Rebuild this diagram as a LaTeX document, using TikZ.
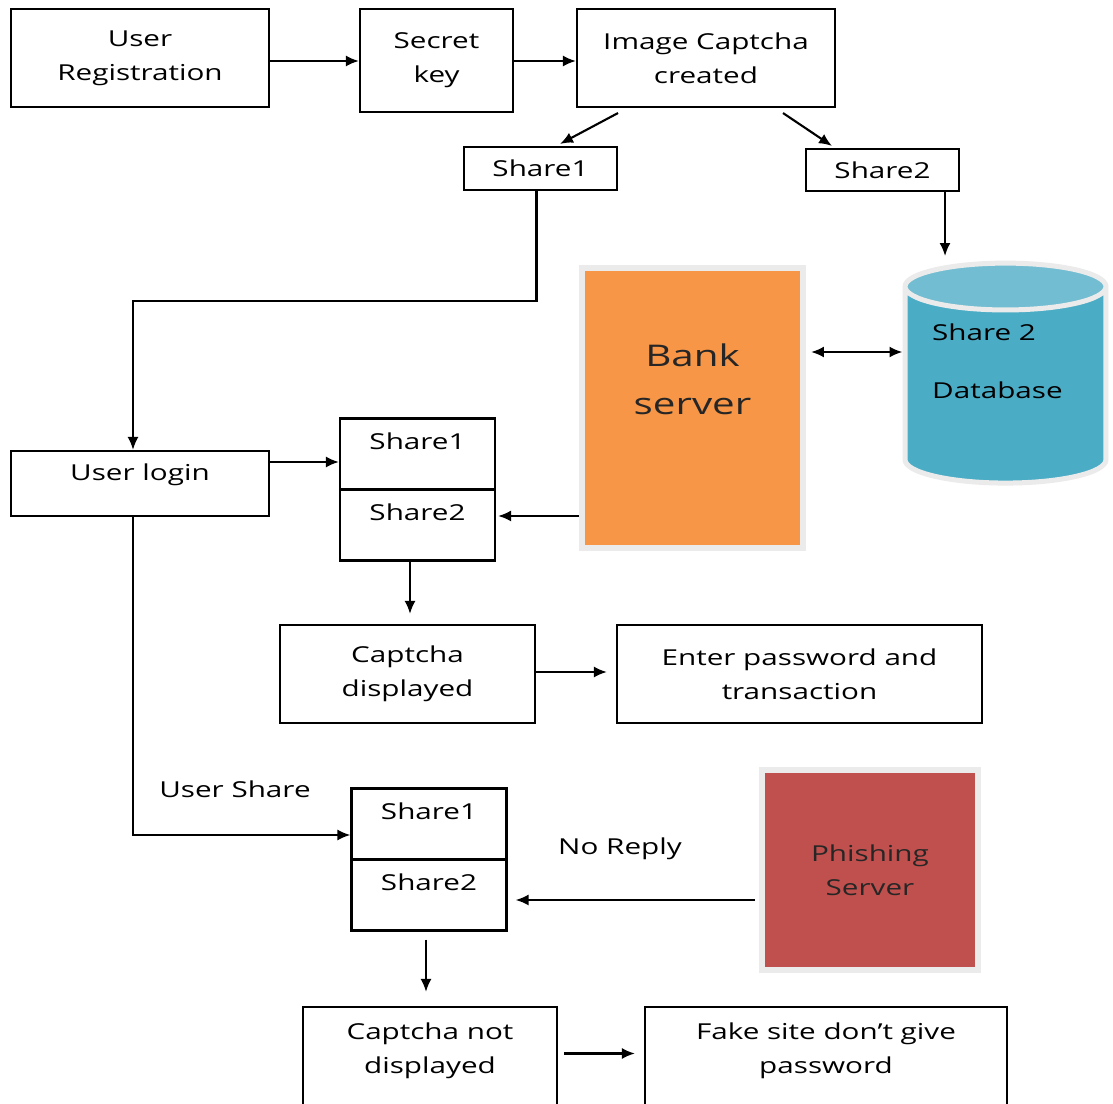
\documentclass[tikz,border=0pt]{standalone}
\usepackage{fontspec}
\setmainfont{Open Sans}[FakeStretch=1.35]
\usepackage{tikz}
\usetikzlibrary{positioning, calc, shapes.geometric, arrows.meta}
\definecolor{bankorange}{HTML}{F79646}
\definecolor{phishred}{HTML}{C0504D}
\definecolor{dbblue}{HTML}{4BACC6}
\definecolor{dbtop}{HTML}{72BDD1}
\tikzstyle{every node}=[font=\fontsize{12.5}{19.4}\selectfont]
\tikzstyle{block}=[draw, line width=1.2pt, align=center, inner sep=0pt]
\tikzstyle{half}=[draw, line width=1.2pt, inner sep=0pt, minimum width=3.1cm, text height=0.62cm, text depth=0.8cm]
\tikzstyle{server}=[draw=black!8, line width=0.12cm, align=center, inner sep=0pt]
\tikzstyle{arrow}=[-{Latex[length=0.26cm, width=0.22cm]}, line width=1.2pt]
\tikzstyle{arrowBoth}=[{Latex[length=0.26cm, width=0.22cm]}-{Latex[length=0.26cm, width=0.22cm]}, line width=1.2pt]

\begin{document}
\begin{tikzpicture}[x=0.02cm, y=-0.02cm]
    \clip (0,0) rectangle (1113,1104);
    \fill[white] (0,0) rectangle (1113,1104);

    % registration part
    \node [block, minimum width=5.16cm, minimum height=1.96cm] (reg) at (140,58) {User\\Registration};
    \node [block, minimum width=3.06cm, minimum height=2.06cm] (key) at (436.5,60.5) {Secret\\key};
    \node [block, minimum width=5.16cm, minimum height=1.96cm] (capt) at (706,58) {Image Captcha\\created};
    \node [block, minimum width=3.06cm, minimum height=0.86cm] (s1) at (540.5,168.5) {Share1};
    \node [block, minimum width=3.06cm, minimum height=0.84cm] (s2) at (882.5,170) {Share2};

    % servers and database
    \node [cylinder, shape border rotate=90, aspect=4, minimum width=4.02cm, minimum height=4.4cm,
           draw=black!8, line width=0.1cm, cylinder uses custom fill,
           cylinder body fill=dbblue, cylinder end fill=dbtop] (db) at (1005.5,390) {};
    \node [align=left, anchor=west, font=\fontsize{12.5}{33}\selectfont] (dbtext) at (926,361) {Share 2\\Database};
    \node [server, fill=bankorange, minimum width=4.42cm, minimum height=5.6cm, text=black!85,
           font=\fontsize{17}{27}\selectfont] (bank) at (692.5,408) {Bank\\server\\[0.2cm]};
    \node [server, fill=phishred, minimum width=4.32cm, minimum height=4cm, text=black!85] (phish) at (870,870) {Phishing\\Server};

    % login part
    \node [block, minimum width=5.16cm, text height=0.6cm, text depth=0.7cm] (login) at (140,483.5) {User login};
    \node [half] (p1a) at (417.5,454) {Share1};
    \node [half, below=-1.2pt of p1a] (p1b) {Share2};
    \node [block, minimum width=5.1cm, minimum height=1.96cm] (capdisp) at (407.5,674) {Captcha\\displayed};
    \node [block, minimum width=7.3cm, minimum height=1.96cm] (enter) at (799.5,674) {Enter password and\\transaction};

    % phishing part
    \node [half] (p2a) at (429,824) {Share1};
    \node [half, below=-1.2pt of p2a] (p2b) {Share2};
    \node [block, minimum width=5.08cm, minimum height=2.06cm] (capnot) at (430,1058.5) {Captcha not\\displayed\\[-0.26cm]};
    \node [block, minimum width=7.24cm, minimum height=2.06cm] (fake) at (826,1058.5) {Fake site don’t give\\password\\[-0.26cm]};

    \node (usershare) at (235,789) {User Share};
    \node (noreply) at (620,849) {No Reply};

    % connectors
    \draw [arrow] ([yshift=-0.06cm]reg.east) -- ([yshift=-0.06cm]reg.east -| key.west);
    \draw [arrow] ([yshift=-0.01cm]key.east) -- ([yshift=-0.01cm]key.east -| capt.west);
    \draw [arrow] ($(capt.south)+(-88,5)$) -- ($(s1.north)+(19.5,-2)$);
    \draw [arrow] ($(capt.south)+(77,5)$) -- ($(s2.north)+(-50.5,-2)$);
    \draw [arrow] ($(s2.south)+(62.5,0)$) -- ($(s2.south)+(62.5,64)$);
    \draw [arrow] ([xshift=-0.08cm]s1.south) -- ++(0,110) -| ([xshift=-0.14cm]login.north);
    \draw [arrowBoth] ([yshift=1.12cm, xshift=0.1cm]bank.east) -- ([yshift=1.12cm]bank.east -| db.west);
    \draw [arrow] ([yshift=0.43cm]login.east) -- ([yshift=0.43cm]login.east -| p1a.west);
    \draw [arrow] ([yshift=-2.16cm]bank.west) -- ([yshift=-2.16cm, xshift=0.04cm]bank.west -| p1b.east);
    \draw [arrow, shorten >=0.2cm] ([xshift=-0.15cm]p1b.south) -- ([xshift=-0.15cm]p1b.south |- capdisp.north);
    \draw [arrow, shorten >=0.18cm] ([yshift=0.04cm]capdisp.east) -- ([yshift=0.04cm]capdisp.east -| enter.west);
    \draw [arrow] ([xshift=-0.14cm]login.south) |- ([yshift=-0.22cm]p2a.west);
    \draw [arrow, shorten >=0.16cm] ([yshift=-0.6cm, xshift=-0.08cm]phish.west) -- ([yshift=-0.6cm]phish.west -| p2b.east);
    \draw [arrow, shorten <=0.16cm, shorten >=0.28cm] ([xshift=-0.06cm]p2b.south) -- ([xshift=-0.06cm]p2b.south |- capnot.north);
    \draw [arrow, shorten <=0.12cm, shorten >=0.18cm] ([yshift=0.1cm]capnot.east) -- ([yshift=0.1cm]capnot.east -| fake.west);

\end{tikzpicture}
\end{document}
